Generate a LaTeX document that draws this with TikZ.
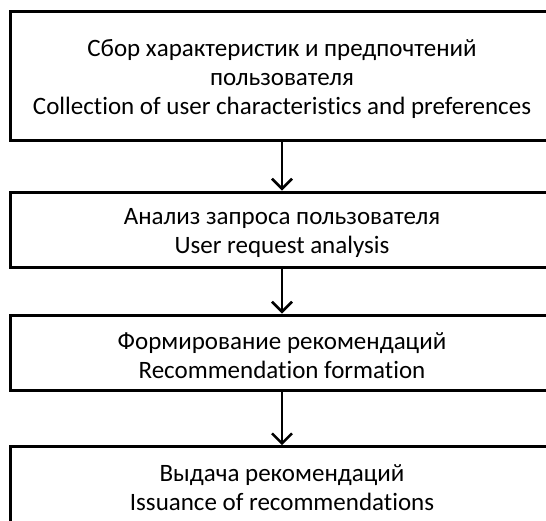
\documentclass[tikz,border=0pt]{standalone}
\usepackage{fontspec}
\setmainfont{Carlito}[Ligatures={NoCommon}]
\usetikzlibrary{arrows.meta}
\tikzset{
  stepbox/.style={draw=black, line width=3pt, rectangle, minimum width=544pt,
    inner sep=0pt},
  steptext/.style={align=center, inner sep=0pt, yshift=-3pt,
    font=\fontsize{25}{29}\selectfont},
  flow/.style={draw=black, line width=2.5pt,
    -{Straight Barb[length=10pt,width=20pt,line width=2.5pt]}}
}
\begin{document}
\begin{tikzpicture}[x=1pt,y=-1pt]
  \useasboundingbox (0,0) rectangle (546,520);
  \node[stepbox, minimum height=128.5pt,
    label={[steptext]center:Сбор характеристик и предпочтений\\пользователя\\Collection of user characteristics and preferences}]
    (b1) at (282,75.75) {};
  \node[stepbox, minimum height=75.5pt,
    label={[steptext]center:Анализ запроса пользователя\\User request analysis}]
    (b2) at (282,229.75) {};
  \node[stepbox, minimum height=75.7pt,
    label={[steptext]center:Формирование рекомендаций\\Recommendation formation}]
    (b3) at (282,352.85) {};
  \node[stepbox, minimum height=75.8pt,
    label={[steptext]center:Выдача рекомендаций\\Issuance of recommendations}]
    (b4) at (282,484.6) {};
  \draw[flow] (b1.south) -- (b2.north);
  \draw[flow] (b2.south) -- (b3.north);
  \draw[flow] (b3.south) -- (b4.north);
\end{tikzpicture}
\end{document}
